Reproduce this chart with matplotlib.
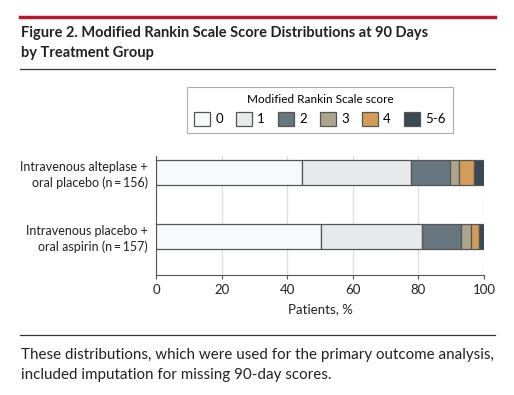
import numpy as np
import matplotlib
matplotlib.use("Agg")
import matplotlib.pyplot as plt
from matplotlib.lines import Line2D

# data (percent of patients)
groups = ["Intravenous alteplase +\noral placebo (n\u2009=\u2009156)",
          "Intravenous placebo +\noral aspirin (n\u2009=\u2009157)"]
scores = ["0", "1", "2", "3", "4", "5-6"]
alteplase = [44.6, 33.2, 11.8, 2.7, 4.8, 2.9]
aspirin = [50.2, 31.0, 11.8, 2.9, 2.5, 1.6]
colors = ["#f8f9fc", "#e8e9eb", "#66777f", "#aca48c", "#d49c58", "#3a4851"]

plt.rcParams['font.family'] = ['Lato', 'DejaVu Sans']

fig = plt.figure(figsize=(5.14, 3.95), dpi=100)
W, H = 514, 395

def fx(px):
    return px / W

def fy(py):
    return 1 - py / H

# header / footer rules
fig.add_artist(Line2D([fx(20), fx(495)], [fy(17), fy(17)], color="#b5192f", lw=2.5))
fig.add_artist(Line2D([fx(20), fx(495)], [fy(69), fy(69)], color="#333333", lw=0.9))
fig.add_artist(Line2D([fx(20), fx(495)], [fy(335), fy(335)], color="#333333", lw=0.9))

fig.text(fx(21), fy(33), "Figure 2. Modified Rankin Scale Score Distributions at 90 Days",
         fontsize=10.5, fontweight="bold", color="#222222", va="center")
fig.text(fx(21), fy(53), "by Treatment Group",
         fontsize=10.5, fontweight="bold", color="#222222", va="center")
fig.text(fx(21), fy(355), "These distributions, which were used for the primary outcome analysis,",
         fontsize=10.9, color="#222222", va="center")
fig.text(fx(21), fy(375), "included imputation for missing 90-day scores.",
         fontsize=10.9, color="#222222", va="center")

ax = fig.add_axes([fx(156), fy(275), fx(484) - fx(156), (275 - 156) / H])

ypos = [1, 0]
data = [alteplase, aspirin]
for yi, vals in zip(ypos, data):
    left = 0
    for v, c, s in zip(vals, colors, scores):
        ax.barh(yi, v, left=left, height=0.39, color=c, edgecolor="#555555",
                linewidth=0.9, label=s if yi == 1 else None, zorder=3)
        left += v

ax.set_xlim(0, 100)
ax.set_ylim(-0.61, 1.26)
ax.set_xticks([0, 20, 40, 60, 80, 100])
ax.set_yticks(ypos)
ax.set_yticklabels(groups, fontsize=9, color="#222222", linespacing=1.3,
                   family=['Lato', 'DejaVu Sans'])
ax.tick_params(axis="x", labelsize=9.5, colors="#222222", length=3, color="#555555")
ax.tick_params(axis="y", length=0, pad=6)
ax.grid(axis="x", color="#dddddd", lw=0.9, zorder=0)
ax.set_xlabel("Patients, %", fontsize=9.5, color="#222222", labelpad=5)
for sp in ["top", "right"]:
    ax.spines[sp].set_visible(False)
ax.spines["left"].set_color("#555555")
ax.spines["bottom"].set_color("#555555")

leg = fig.legend(loc="center", bbox_to_anchor=(fx(320), fy(110)), ncol=6,
                 title="Modified Rankin Scale score", title_fontsize=8.5, fontsize=9.5,
                 frameon=True, fancybox=False, edgecolor="#999999",
                 handlelength=1.2, handleheight=1.2, columnspacing=1.0,
                 handletextpad=0.4, borderpad=0.55)
leg.get_frame().set_linewidth(0.8)

fig.savefig("out.png", dpi=100)
